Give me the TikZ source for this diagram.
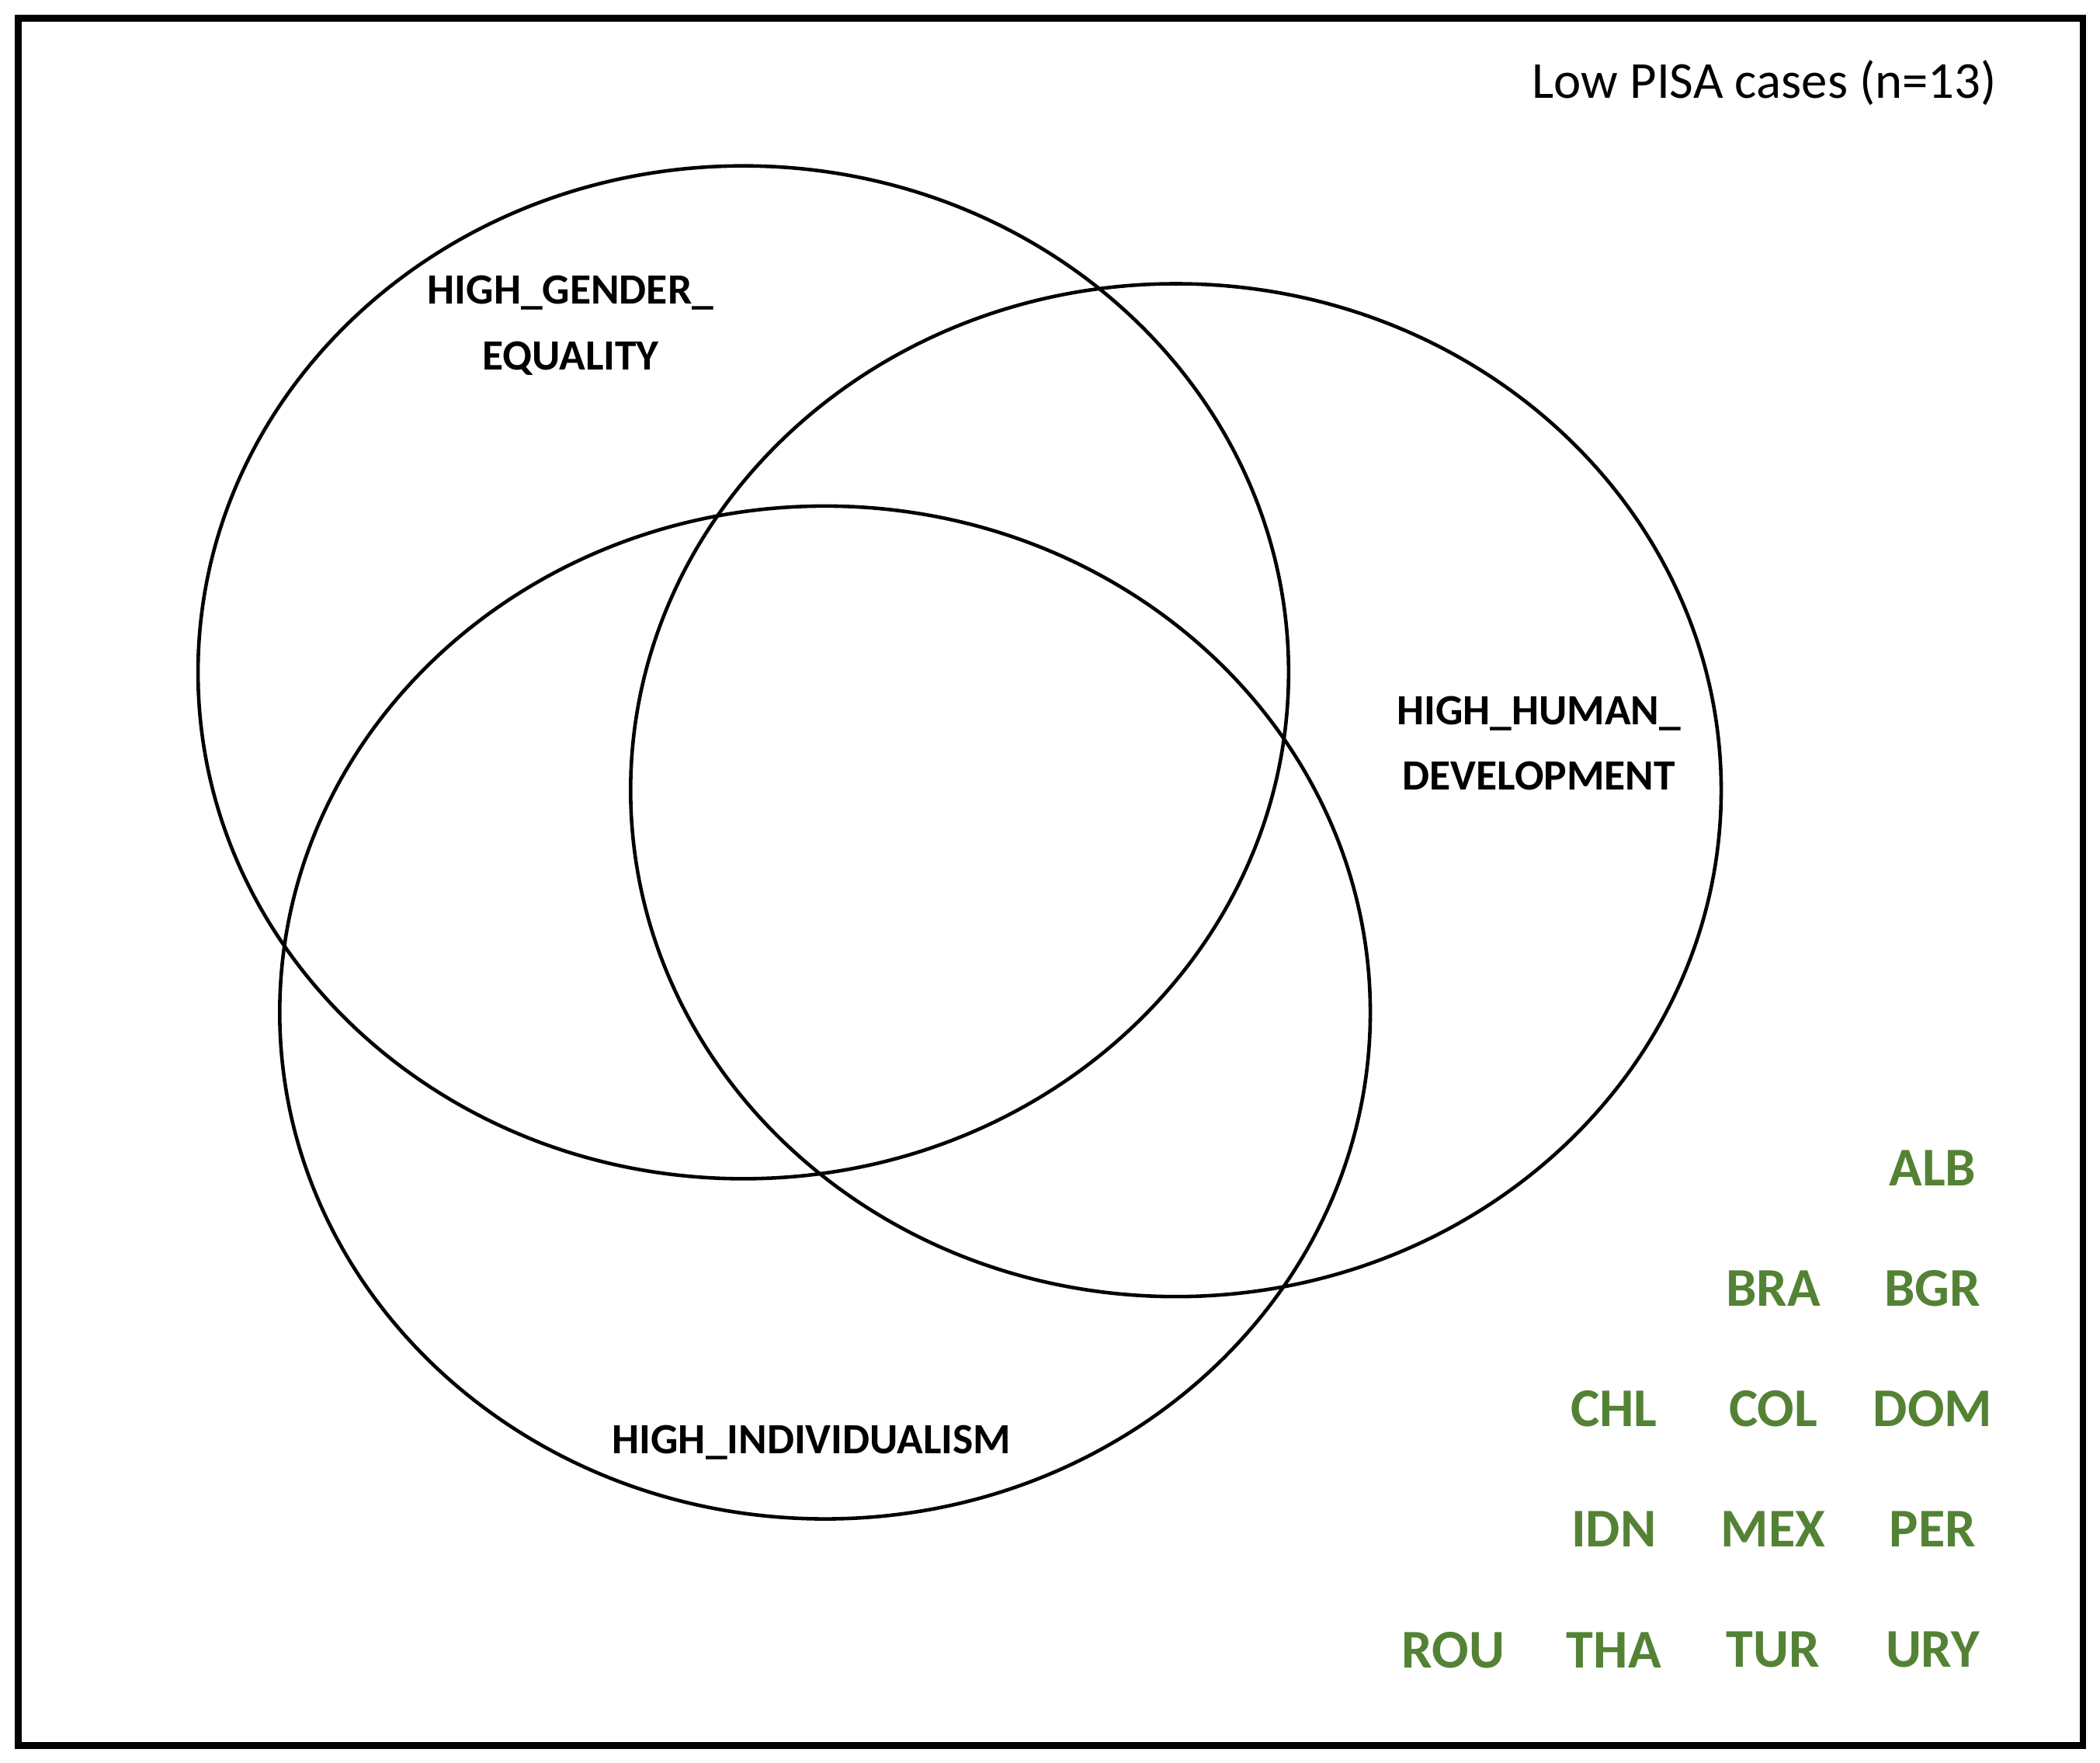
\documentclass[tikz,border=0pt]{standalone}
\usepackage{fontspec}
\setmainfont{Carlito}
\usepackage{tikz}
\usetikzlibrary{shapes.geometric,positioning}
\definecolor{casegreen}{RGB}{84,130,53}
\begin{document}
\begin{tikzpicture}[x=0.01725cm,y=-0.01725cm]
\tikzstyle{set}=[ellipse, draw=black, line width=1.3pt, inner sep=0pt, minimum width=14.04cm, minimum height=13.04cm]
\tikzstyle{setlabel}=[font=\fontsize{15.8}{24}\selectfont\bfseries, align=center]
\tikzstyle{case}=[font=\fontsize{20}{24}\selectfont\bfseries, text=casegreen]
\useasboundingbox (0,0) rectangle (1568,1316);
\node[draw=black, line width=2.4pt, minimum width=26.58cm, minimum height=22.24cm, inner sep=0pt] (frame) at (784.5,658.5) {};
\node[anchor=east, font=\fontsize{19}{24}\selectfont] (title) at (1498,62) {Low PISA cases (n=13)};
  \node[set] (gender) at (555,502) {};
  \node[set] (human) at (878,590) {};
  \node[set] (indiv) at (616,756) {};
\node[setlabel] (lgender) at (426,243) {HIGH\_GENDER\_\\[0pt]EQUALITY};
\node[setlabel] (lhuman) at (1149,555) {HIGH\_HUMAN\_\\[0pt]DEVELOPMENT};
\node[setlabel] (lindiv) at (606,1077) {HIGH\_INDIVIDUALISM};
\node[case] (alb) at (1443,872) {ALB};
\node[case] (bra) at (1324,962) {BRA};
\node[case] (bgr) at (1443,962) {BGR};
\node[case] (chl) at (1205,1052) {CHL};
\node[case] (col) at (1324,1052) {COL};
\node[case] (dom) at (1443,1052) {DOM};
\node[case] (idn) at (1205,1142) {IDN};
\node[case] (mex) at (1324,1142) {MEX};
\node[case] (per) at (1443,1142) {PER};
\node[case] (rou) at (1085,1232) {ROU};
\node[case] (tha) at (1205,1232) {THA};
\node[case] (tur) at (1324,1232) {TUR};
\node[case] (ury) at (1443,1232) {URY};
\end{tikzpicture}
\end{document}
